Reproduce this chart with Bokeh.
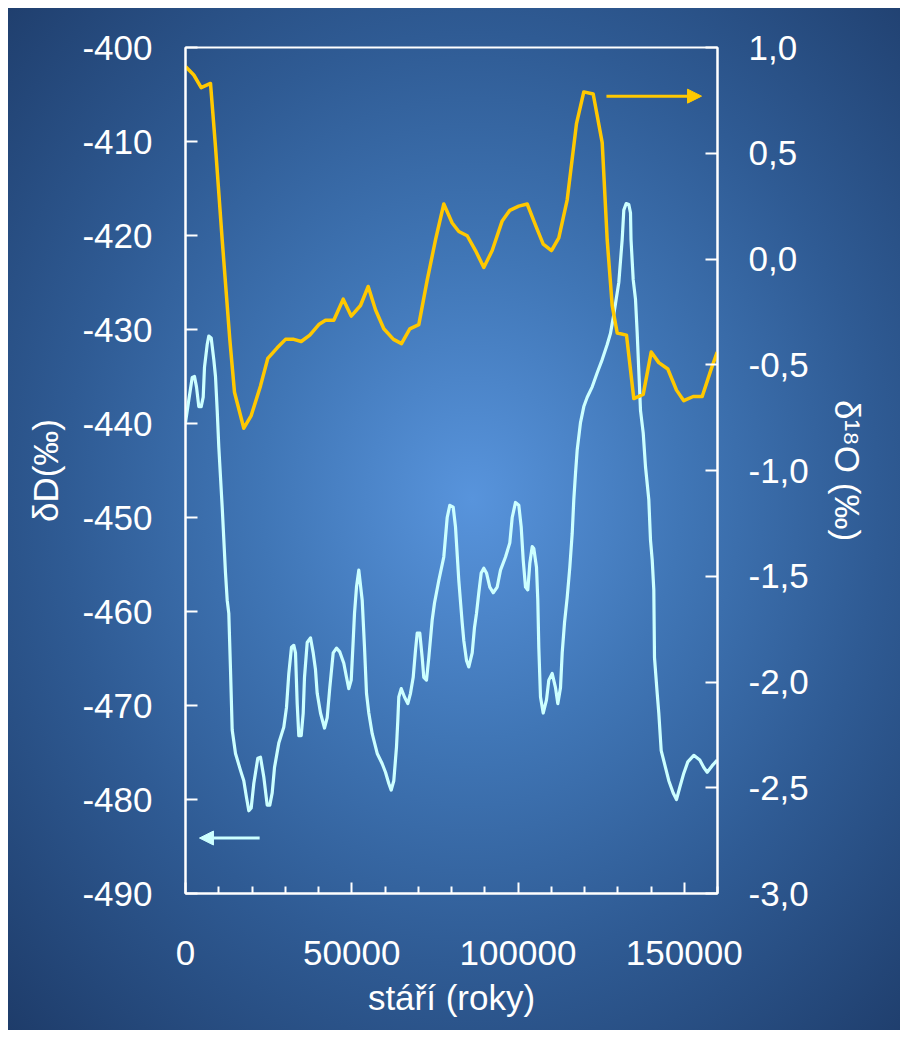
from bokeh.plotting import figure
from bokeh.models import (Range1d, LinearAxis, FixedTicker, Arrow, NormalHead)
from bokeh.embed import file_html
from bokeh.resources import INLINE

# --- data ---
dD_age = [0, 992, 2015, 2707, 3308, 4000, 4722, 5323, 5714, 6526, 7007, 7729, 8511, 9023, 9534,
          10015, 11037, 12030, 12541, 13022, 13534, 14045, 15038, 16541, 17534, 18346, 19038, 19759,
          20541, 21744, 22556, 23549, 24571, 25354, 26075, 26767, 28060, 29564, 30376, 31068, 31880,
          32571, 33083, 33594, 34075, 34797, 35398, 35789, 36601, 37594, 38406, 39098, 39609, 40601,
          41804, 42617, 43398, 44421, 45413, 46406, 47609, 48421, 49113, 49835, 50436, 50827, 51428,
          52120, 53143, 53834, 54436, 55128, 56150, 57654, 59158, 60150, 61143, 61865, 62647, 63459,
          63850, 64150, 64872, 65865, 66857, 67669, 68481, 69173, 69684, 70466, 71188, 71669, 72481,
          73173, 74195, 74887, 76180, 77684, 78707, 79489, 80511, 81203, 82195, 83218, 83699, 84511,
          85203, 86226, 86917, 87519, 88211, 88932, 89714, 90526, 91519, 92541, 93744, 94736, 96240,
          97534, 98256, 99248, 100241, 100962, 101564, 102255, 102947, 103549, 104271, 104752, 105564,
          105955, 106256, 106767, 107579, 108571, 109263, 110286, 111278, 111970, 112782, 113293,
          113985, 114797, 115579, 116301, 116782, 117293, 117805, 118797, 119790, 120812, 122316,
          123820, 125323, 126827, 127820, 128812, 130316, 131338, 131820, 132541, 133323, 133835,
          133985, 134647, 135338, 135850, 136842, 137654, 138346, 139338, 139850, 140361, 140842,
          141053, 141865, 142346, 143068, 144361, 145353, 146677, 147669, 148662, 149865, 151068,
          152872, 154677, 155880, 156902, 158406, 159910]
dD_value = [-439.9, -437.5, -435.1, -435.0, -436.1, -438.2, -438.2, -437.2, -434.0, -431.6, -430.7,
            -430.9, -433.2, -435.0, -438.6, -442.5, -448.9, -455.9, -458.8, -460.2, -466.2, -472.6,
            -475.1, -476.9, -478.0, -479.8, -481.2, -480.9, -478.3, -475.6, -475.5, -477.6, -480.6,
            -480.6, -479.3, -476.6, -474.0, -472.3, -470.2, -466.6, -463.8, -463.6, -464.4, -469.8,
            -473.2, -473.2, -470.8, -467.0, -463.3, -462.8, -464.4, -466.2, -468.7, -470.8, -472.4,
            -471.3, -468.1, -464.4, -463.9, -464.3, -465.5, -467.0, -468.2, -467.3, -463.1, -460.2,
            -457.4, -455.6, -458.8, -463.8, -468.7, -470.8, -473.0, -475.1, -476.2, -477.1, -478.3,
            -479.0, -478.0, -474.4, -471.6, -469.1, -468.2, -469.1, -469.8, -468.7, -467.0, -464.1,
            -462.3, -462.3, -464.9, -467.0, -467.3, -464.9, -460.9, -459.1, -456.7, -454.2, -450.0,
            -448.7, -448.9, -451.0, -456.7, -461.2, -463.1, -465.2, -465.9, -464.4, -461.7, -460.2,
            -458.0, -455.9, -455.4, -455.9, -457.4, -458.0, -457.4, -455.6, -454.2, -452.7, -450.0,
            -448.4, -448.7, -451.0, -454.5, -457.4, -457.7, -454.9, -453.1, -453.3, -455.3, -458.8,
            -463.8, -469.1, -470.8, -469.4, -467.3, -466.6, -468.1, -469.8, -468.1, -464.4, -461.2,
            -458.5, -455.3, -451.7, -448.1, -445.3, -442.8, -439.9, -438.2, -437.2, -436.1, -434.6,
            -433.2, -431.6, -430.4, -428.4, -425.0, -420.4, -417.3, -416.6, -416.7, -417.6, -420.4,
            -424.7, -426.8, -430.4, -438.6, -441.0, -444.6, -448.1, -452.4, -454.5, -457.7, -464.9,
            -468.7, -470.8, -474.8, -476.6, -478.0, -479.3, -480.0, -478.7, -477.2, -476.0, -475.3,
            -475.8, -476.6, -477.1, -476.4, -475.8]

d18O_age = [0, 2496, 4722, 7519, 9023, 11037, 13323, 14737, 17534, 19759, 22556, 24752, 27579, 30075,
            32571, 34797, 37383, 40090, 42105, 44601, 47428, 49835, 52632, 54947, 57143, 59639, 62556,
            64962, 67459, 70166, 72692, 75188, 77684, 80211, 82195, 84722, 87218, 89714, 92241, 95248,
            97534, 100241, 102767, 105263, 107579, 110075, 112271, 114797, 117594, 119790, 122617,
            125323, 126827, 128331, 129835, 132632, 134827, 137654, 140060, 142346, 145053, 147669,
            149865, 152692, 155399, 157895, 159910]
d18O_value = [0.91, 0.87, 0.81, 0.83, 0.53, 0.09, -0.38, -0.63, -0.80, -0.74, -0.60, -0.47, -0.42,
              -0.38, -0.38, -0.39, -0.36, -0.31, -0.29, -0.29, -0.19, -0.27, -0.22, -0.13, -0.24,
              -0.33, -0.38, -0.40, -0.33, -0.31, -0.10, 0.09, 0.26, 0.17, 0.13, 0.11, 0.04, -0.04,
              0.04, 0.18, 0.23, 0.25, 0.26, 0.16, 0.07, 0.04, 0.10, 0.28, 0.64, 0.79, 0.78, 0.55,
              0.09, -0.22, -0.35, -0.36, -0.66, -0.64, -0.44, -0.49, -0.52, -0.62, -0.67, -0.65,
              -0.65, -0.53, -0.44]

x_major_ticks = [0, 50000, 100000, 150000]
x_major_labels = ["0", "50000", "100000", "150000"]
x_minor_ticks = [10000, 20000, 30000, 40000, 60000, 70000, 80000, 90000, 110000, 120000, 130000,
                 140000, 160000]
left_ticks = [-490, -480, -470, -460, -450, -440, -430, -420, -410, -400]
left_tick_labels = ["-490", "-480", "-470", "-460", "-450", "-440", "-430", "-420", "-410", "-400"]
right_ticks = [-3.0, -2.5, -2.0, -1.5, -1.0, -0.5, 0.0, 0.5, 1.0]
right_tick_labels = ["-3,0", "-2,5", "-2,0", "-1,5", "-1,0", "-0,5", "0,0", "0,5", "1,0"]

x_label = "stáří (roky)"
left_label = "δD(‰)"
right_label = "δ¹⁸O (‰)"

# arrows marking which axis each series belongs to
yellow_arrow = dict(x_start=126600, x_end=155200, y=0.77)
cyan_arrow = dict(x_start=22300, x_end=4200, y=-484.1)

CYAN = "#CCFFFF"
GOLD = "#FFC800"
FONT = "Liberation Sans"
FS = "35px"

p = figure(width=892, height=1022, output_backend="svg", toolbar_location=None,
           x_range=Range1d(0, 160000), y_range=Range1d(-490, -400),
           min_border_left=177, min_border_right=183, min_border_top=39, min_border_bottom=137,
           x_axis_location=None, y_axis_location=None)
p.extra_y_ranges = {"right": Range1d(-3.0, 1.0)}

p.background_fill_color = None
p.border_fill_color = None
p.outline_line_color = "white"
p.outline_line_width = 2
p.grid.visible = False
p.styles = {"background": "radial-gradient(ellipse farthest-corner at 52% 48%, #5894dc 0%, "
                          "#4076b6 32%, #2f5b94 62%, #1e3c6a 100%)",
            "margin-left": "8px", "margin-top": "8px"}


def style_axis(ax):
    ax.axis_line_color = "white"
    ax.axis_line_width = 2
    ax.major_tick_line_color = "white"
    ax.major_tick_line_width = 2
    ax.minor_tick_line_color = "white"
    ax.minor_tick_line_width = 2
    ax.major_tick_out = 0
    ax.major_tick_in = 12
    ax.minor_tick_out = 0
    ax.minor_tick_in = 0
    ax.major_label_text_color = "white"
    ax.major_label_text_font = FONT
    ax.major_label_text_font_size = FS
    ax.axis_label_text_color = "white"
    ax.axis_label_text_font = FONT
    ax.axis_label_text_font_size = FS
    ax.axis_label_text_font_style = "normal"


xaxis = LinearAxis(ticker=FixedTicker(ticks=x_major_ticks, minor_ticks=x_minor_ticks),
                   major_label_overrides=dict(zip(x_major_ticks, x_major_labels)),
                   axis_label=x_label)
style_axis(xaxis)
xaxis.major_tick_in = 11
xaxis.minor_tick_in = 7
xaxis.major_label_standoff = 47
xaxis.axis_label_standoff = 10
p.add_layout(xaxis, "below")

laxis = LinearAxis(ticker=FixedTicker(ticks=left_ticks),
                   major_label_overrides=dict(zip(left_ticks, left_tick_labels)),
                   axis_label=left_label)
style_axis(laxis)
laxis.major_label_standoff = 33
laxis.axis_label_standoff = 14
p.add_layout(laxis, "left")

raxis = LinearAxis(y_range_name="right", ticker=FixedTicker(ticks=right_ticks),
                   major_label_overrides=dict(zip(right_ticks, right_tick_labels)),
                   axis_label=right_label)
style_axis(raxis)
raxis.major_label_standoff = 31
raxis.axis_label_standoff = 16
p.add_layout(raxis, "right")

p.line(dD_age, dD_value, line_color=CYAN, line_width=3.2, line_join="round")
p.line(d18O_age, d18O_value, line_color=GOLD, line_width=3.5, line_join="round",
       y_range_name="right")

p.add_layout(Arrow(x_start=yellow_arrow["x_start"], x_end=yellow_arrow["x_end"],
                   y_start=yellow_arrow["y"], y_end=yellow_arrow["y"], y_range_name="right",
                   line_color=GOLD, line_width=3,
                   end=NormalHead(size=14, fill_color=GOLD, line_color=GOLD)))
p.add_layout(Arrow(x_start=cyan_arrow["x_start"], x_end=cyan_arrow["x_end"],
                   y_start=cyan_arrow["y"], y_end=cyan_arrow["y"],
                   line_color=CYAN, line_width=3,
                   end=NormalHead(size=14, fill_color=CYAN, line_color=CYAN)))

open("out.html", "w").write(file_html(p, INLINE))
